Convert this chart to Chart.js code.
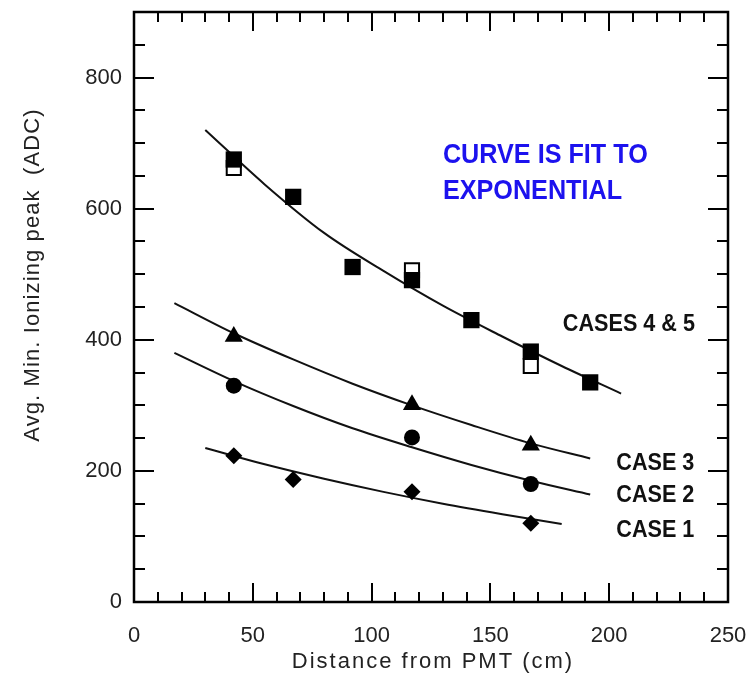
<!DOCTYPE html>
<html>
<head>
<meta charset="utf-8">
<script src="https://cdn.jsdelivr.net/npm/chart.js@4.4.0/dist/chart.umd.min.js"></script>
<style>
  html, body { margin: 0; padding: 0; background: #fff; }
  #wrap { width: 753px; height: 683px; }
</style>
</head>
<body>
<div id="wrap"><canvas id="chart" width="753" height="683"></canvas></div>
<script>
// Data
const xTicks = [0, 50, 100, 150, 200, 250];
const yTicks = [0, 200, 400, 600, 800];

// cases 4 & 5 (filled / open squares)
const distCase4 = [42, 67, 92, 117, 142, 167, 192];
const peakCase4 = [675, 618, 511, 491, 430, 382, 335];
const distCase5 = [42, 117, 167];
const peakCase5 = [662, 506, 360];
// case 3 (triangles), case 2 (circles)
const distCase3 = [42, 117, 167];
const peakCase3 = [405, 301, 239];
const distCase2 = [42, 117, 167];
const peakCase2 = [330, 251, 180];
// case 1 (diamonds)
const distCase1 = [42, 67, 117, 167];
const peakCase1 = [223, 187, 168, 120];

// fitted curves
const fitX45 = [30, 55, 80, 105, 130, 155, 180, 205];
const fitY45 = [720, 637, 563, 505, 452, 405, 360, 318];
const fitX3 = [17, 42, 67, 92, 117, 142, 167, 192];
const fitY3 = [456, 410, 370, 333, 300, 270, 242, 219];
const fitX2 = [17, 42, 67, 92, 117, 142, 167, 192];
const fitY2 = [380, 337, 299, 265, 236, 209, 185, 164];
const fitX1 = [30, 55, 80, 105, 130, 155, 180];
const fitY1 = [235, 210, 188, 168, 150, 134, 119];

const noteLines = ["CURVE IS FIT TO", "EXPONENTIAL"];
const caseLabels = ["CASES 4 & 5", "CASE 3", "CASE 2", "CASE 1"];

const pts = (xs, ys) => xs.map((x, i) => ({ x: x, y: ys[i] }));

function fitLine(xs, ys) {
  return {
    type: 'line',
    data: pts(xs, ys),
    borderColor: '#111',
    borderWidth: 2,
    pointRadius: 0,
    fill: false,
    cubicInterpolationMode: 'monotone'
  };
}

// frame, inward ticks, labels
const decorations = {
  id: 'decorations',
  afterDraw(chart) {
    const ctx = chart.ctx;
    const a = chart.chartArea;
    const xs = chart.scales.x, ys = chart.scales.y;
    ctx.save();
    ctx.strokeStyle = '#000';
    ctx.lineWidth = 2;
    ctx.beginPath();
    for (let v = 0; v <= 250; v += 10) {
      const px = Math.round(xs.getPixelForValue(v));
      const len = v % 50 === 0 ? 19 : 10;
      ctx.moveTo(px, a.bottom); ctx.lineTo(px, a.bottom - len);
      ctx.moveTo(px, a.top); ctx.lineTo(px, a.top + len);
    }
    for (let v = 0; v <= 900; v += 50) {
      const py = Math.round(ys.getPixelForValue(v));
      const len = v % 200 === 0 ? 20 : 11;
      ctx.moveTo(a.left, py); ctx.lineTo(a.left + len, py);
      ctx.moveTo(a.right, py); ctx.lineTo(a.right - len, py);
    }
    ctx.stroke();
    ctx.lineWidth = 2.5;
    ctx.strokeRect(a.left, a.top, a.right - a.left, a.bottom - a.top);

    // axis titles
    ctx.fillStyle = '#222';
    ctx.font = '22px "Liberation Sans", Arial, sans-serif';
    ctx.textBaseline = 'middle';
    ctx.textAlign = 'center';
    ctx.letterSpacing = '2px';
    ctx.fillText('Distance from PMT (cm)', 433, 662);
    ctx.save();
    ctx.translate(33, 275);
    ctx.rotate(-Math.PI / 2);
    ctx.letterSpacing = '1.1px';
    ctx.fillText('Avg. Min. Ionizing peak  (ADC)', 0, 0);
    ctx.restore();
    ctx.letterSpacing = '0px';

    // condensed bold notes
    function squeezed(text, x, y, size, color, sx) {
      ctx.save();
      ctx.font = 'bold ' + size + 'px "Liberation Sans", Arial, sans-serif';
      ctx.fillStyle = color;
      ctx.textAlign = 'left';
      ctx.textBaseline = 'middle';
      ctx.translate(x, y);
      ctx.scale(sx, 1);
      ctx.fillText(text, 0, 0);
      ctx.restore();
    }
    const blue = 'rgb(28, 18, 238)';
    squeezed(noteLines[0], xs.getPixelForValue(130), ys.getPixelForValue(682), 28, blue, 0.9);
    squeezed(noteLines[1], xs.getPixelForValue(130), ys.getPixelForValue(627), 28, blue, 0.9);
    squeezed(caseLabels[0], xs.getPixelForValue(180.5), ys.getPixelForValue(423), 24, '#111', 0.9);
    squeezed(caseLabels[1], xs.getPixelForValue(203), ys.getPixelForValue(212), 24, '#111', 0.9);
    squeezed(caseLabels[2], xs.getPixelForValue(203), ys.getPixelForValue(162), 24, '#111', 0.9);
    squeezed(caseLabels[3], xs.getPixelForValue(203), ys.getPixelForValue(109), 24, '#111', 0.9);
    ctx.restore();
  }
};

const ctx = document.getElementById('chart').getContext('2d');
new Chart(ctx, {
  type: 'scatter',
  data: {
    datasets: [
      { data: pts(distCase4, peakCase4), pointStyle: 'rect', pointRadius: 11.5, backgroundColor: '#000', borderWidth: 0 },
      { data: pts(distCase5, peakCase5), pointStyle: 'rect', pointRadius: 10, backgroundColor: '#fff', borderColor: '#000', borderWidth: 2 },
      { data: pts(distCase3, peakCase3), pointStyle: 'triangle', pointRadius: 10.5, backgroundColor: '#000', borderWidth: 0 },
      { data: pts(distCase2, peakCase2), pointStyle: 'circle', pointRadius: 8, backgroundColor: '#000', borderWidth: 0 },
      { data: pts(distCase1, peakCase1), pointStyle: 'rectRot', pointRadius: 8.5, backgroundColor: '#000', borderWidth: 0 },
      fitLine(fitX45, fitY45),
      fitLine(fitX3, fitY3),
      fitLine(fitX2, fitY2),
      fitLine(fitX1, fitY1)
    ]
  },
  options: {
    responsive: false,
    animation: false,
    devicePixelRatio: 1,
    layout: { padding: { left: 0, top: 8, right: 25, bottom: 0 } },
    plugins: { legend: { display: false }, tooltip: { enabled: false } },
    scales: {
      x: {
        type: 'linear',
        min: 0, max: 250,
        grid: { display: false, drawTicks: false },
        border: { display: false },
        afterBuildTicks: s => { s.ticks = xTicks.map(v => ({ value: v })); },
        afterFit: s => {
          s.height = 81;
          s.paddingLeft = 0; s.paddingRight = 0;
          s.paddingTop = 0; s.paddingBottom = 0;
        },
        ticks: {
          padding: 21,
          color: '#222',
          maxRotation: 0,
          font: { family: '"Liberation Sans", Arial, sans-serif', size: 22 }
        }
      },
      y: {
        type: 'linear',
        min: 0, max: 900,
        grid: { display: false, drawTicks: false },
        border: { display: false },
        afterBuildTicks: s => { s.ticks = yTicks.map(v => ({ value: v })); },
        afterFit: s => {
          s.width = 134;
          s.paddingLeft = 0; s.paddingRight = 0;
          s.paddingTop = 0; s.paddingBottom = 0;
        },
        ticks: {
          padding: 12,
          color: '#222',
          font: { family: '"Liberation Sans", Arial, sans-serif', size: 22 }
        }
      }
    }
  },
  plugins: [decorations]
});
</script>
</body>
</html>
